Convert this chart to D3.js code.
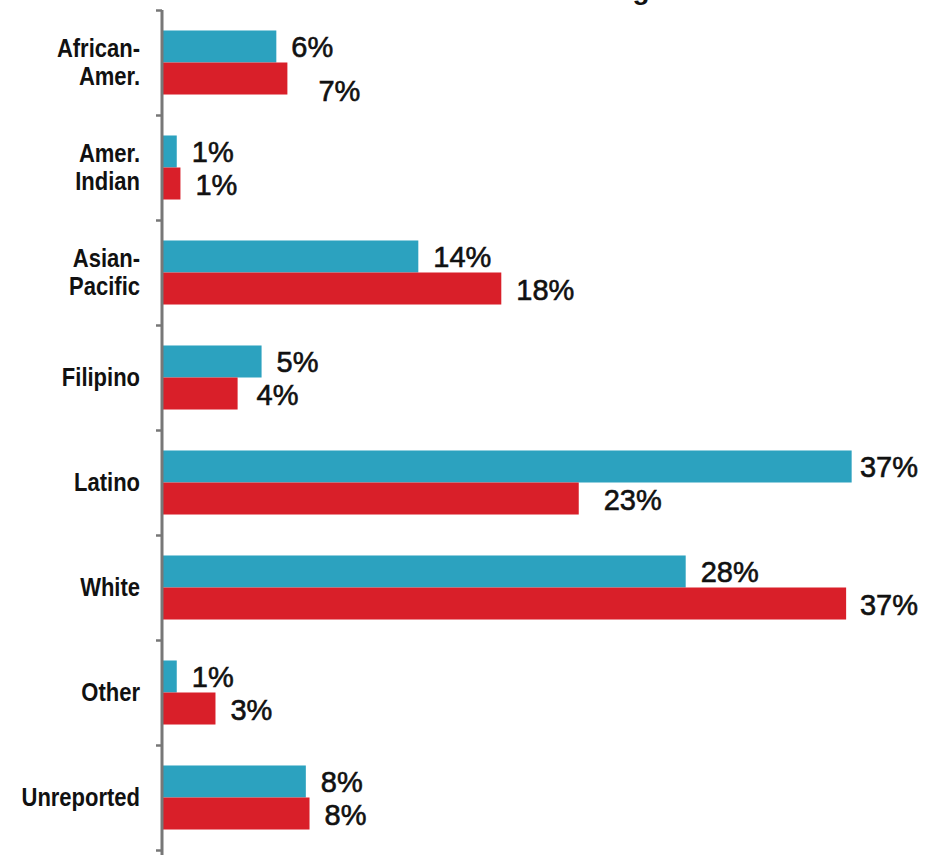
<!DOCTYPE html>
<html>
<head>
<meta charset="utf-8">
<script src="https://cdn.jsdelivr.net/npm/d3@7"></script>
<style>
  html, body { margin: 0; padding: 0; background: #fff; }
  svg { display: block; }
</style>
</head>
<body>
<div id="chart"></div>
<script>
// ---- data ----
const categories = [
  ["African-", "Amer."],
  ["Amer.", "Indian"],
  ["Asian-", "Pacific"],
  ["Filipino"],
  ["Latino"],
  ["White"],
  ["Other"],
  ["Unreported"]
];
const seriesBlue = [6.2, 0.8, 13.9, 5.4, 37.4, 28.4, 0.8, 7.8];
const seriesRed  = [6.8, 1.0, 18.4, 4.1, 22.6, 37.1, 2.9, 8.0];
const titleFragment = "g";

// ---- layout ----
const W = 941, H = 855;
const colors = ["#2ca2bf", "#d91f29"];
const axisX = 162;

const svg = d3.select("#chart").append("svg")
  .attr("width", W).attr("height", H);

const keys = categories.map((c, i) => i);
const y = d3.scaleBand().domain(keys).range([10, 850]).paddingInner(0).paddingOuter(0);
const ySub = d3.scaleBand().domain([0, 1]).range([0, y.bandwidth()]).paddingInner(0).paddingOuter(0.64);
const x = d3.scaleLinear().domain([0, 40]).range([axisX, axisX + 40 * 18.44]);

const rows = [];
categories.forEach((c, i) => {
  rows.push({ cat: i, s: 0, v: seriesBlue[i] });
  rows.push({ cat: i, s: 1, v: seriesRed[i] });
});

// bars
svg.append("g").selectAll("rect").data(rows).join("rect")
  .attr("x", x(0))
  .attr("y", d => y(d.cat) + ySub(d.s))
  .attr("width", d => x(d.v) - x(0))
  .attr("height", ySub.bandwidth())
  .attr("fill", d => colors[d.s]);

// value labels
const rightLimit = 918;
const nudge = { "0|1": [16, 11], "4|1": [10, 0], "3|1": [4, 0] };
const lbl = svg.append("g")
  .attr("font-family", "Liberation Sans, Arial, sans-serif")
  .attr("font-size", 29)
  .attr("fill", "#111");
lbl.selectAll("text").data(rows).join("text")
  .text(d => Math.round(d.v) + "%")
  .attr("dominant-baseline", "central")
  .attr("stroke", "#111")
  .attr("stroke-width", 0.6)
  .each(function (d) {
    const t = d3.select(this);
    const w = this.getComputedTextLength();
    const n = nudge[d.cat + "|" + d.s] || [0, 0];
    let px = x(d.v) + 15 + n[0];
    if (px + w > rightLimit) px = rightLimit - w;
    t.attr("x", px)
     .attr("y", y(d.cat) + ySub(d.s) + ySub.bandwidth() / 2 + 1 + n[1]);
  });

// category labels
const cat = svg.append("g");
categories.forEach((lines, i) => {
  const cy = y(i) + y.bandwidth() / 2;
  const lh = 28;
  const g = cat.append("g")
    .attr("transform", `translate(140,${cy}) scale(0.88,1)`);
  lines.forEach((ln, j) => {
    g.append("text")
      .attr("x", 0)
      .attr("y", (j - (lines.length - 1) / 2) * lh)
      .attr("dominant-baseline", "central")
      .attr("text-anchor", "end")
      .attr("font-family", "Liberation Sans, Arial, sans-serif")
      .attr("font-weight", "bold")
      .attr("font-size", 25)
      .attr("fill", "#111")
      .text(ln);
  });
});

// axis
const yAxis = d3.axisLeft(d3.scaleLinear().domain([0, categories.length]).range([10, 850]))
  .ticks(categories.length)
  .tickSize(6)
  .tickFormat("");
const ax = svg.append("g").attr("transform", `translate(${axisX},0)`).call(yAxis);
ax.select(".domain").attr("stroke", "#777").attr("stroke-width", 3)
  .attr("d", "M0,10V855");
ax.selectAll(".tick line").attr("stroke", "#777").attr("stroke-width", 2.5);

// cut-off title fragment at the top
svg.append("text")
  .attr("x", 641).attr("y", -1)
  .attr("text-anchor", "middle")
  .attr("font-family", "Liberation Sans, Arial, sans-serif")
  .attr("font-weight", "bold")
  .attr("font-size", 28)
  .attr("fill", "#111")
  .text(titleFragment);
</script>
</body>
</html>
